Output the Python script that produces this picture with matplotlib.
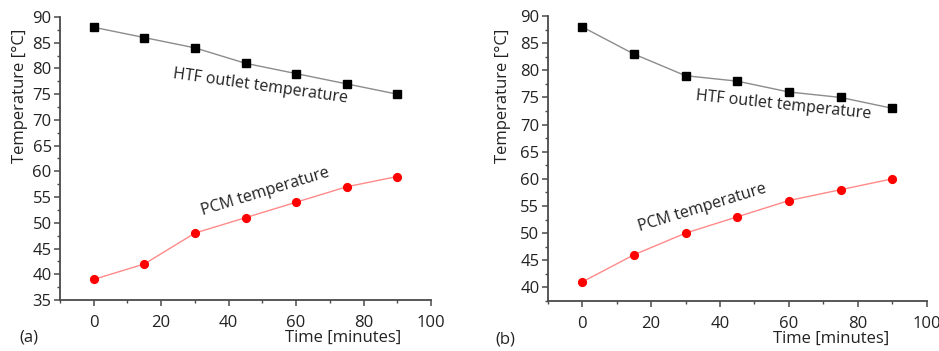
import matplotlib.pyplot as plt
from matplotlib.ticker import MultipleLocator

plt.rcParams['font.family'] = ['Open Sans', 'DejaVu Sans']

time_min = [0, 15, 30, 45, 60, 75, 90]

# panel (a)
htf_a = [88, 86, 84, 81, 79, 77, 75]
pcm_a = [39, 42, 48, 51, 54, 57, 59]

# panel (b)
htf_b = [88, 83, 79, 78, 76, 75, 73]
pcm_b = [41, 46, 50, 53, 56, 58, 60]

panels = [
    dict(rect=[0.0639, 0.1453, 0.3951, 0.8063], htf=htf_a, pcm=pcm_a, ylim=(35, 90),
         tag='(a)', tag_x=-0.11, xlab_x=0.763, ylab_x=-0.085,
         htf_pos=(49.5, 76.6, -8), pcm_pos=(51, 56.0, 17)),
    dict(rect=[0.5833, 0.1425, 0.4036, 0.8119], htf=htf_b, pcm=pcm_b, ylim=(37.5, 90),
         tag='(b)', tag_x=-0.139, xlab_x=0.748, ylab_x=-0.098,
         htf_pos=(58.5, 73.5, -6), pcm_pos=(35, 54.7, 17)),
]

txt = '#222222'
spine = '#4a4a4a'

fig = plt.figure(figsize=(9.39, 3.51), dpi=100)

for p in panels:
    ax = fig.add_axes(p['rect'])
    ax.plot(time_min, p['htf'], color='#8c8c8c', lw=1.0, marker='s', ms=5.2,
            mfc='black', mec='black', zorder=3)
    ax.plot(time_min, p['pcm'], color='#ff8a8a', lw=1.0, marker='o', ms=5.6,
            mfc='#ff0000', mec='#ff0000', zorder=3)

    ax.set_xlim(-10, 100)
    ax.set_ylim(*p['ylim'])
    ax.xaxis.set_major_locator(MultipleLocator(20))
    ax.xaxis.set_minor_locator(MultipleLocator(10))
    ax.yaxis.set_major_locator(MultipleLocator(5))
    ax.yaxis.set_minor_locator(MultipleLocator(2.5))

    for s in ('top', 'right'):
        ax.spines[s].set_visible(False)
    for s in ('left', 'bottom'):
        ax.spines[s].set_color(spine)
        ax.spines[s].set_linewidth(1.3)

    ax.tick_params(which='major', direction='out', length=4, width=1.1,
                   color=spine, labelcolor=txt, labelsize=12)
    ax.tick_params(which='minor', direction='out', length=2.5, width=1.0, color=spine)
    ax.tick_params(axis='x', pad=7)
    ax.tick_params(axis='y', pad=2)

    ax.set_ylabel('Temperature [°C]', fontsize=12, color=txt)
    ax.yaxis.set_label_coords(p['ylab_x'], 0.72)

    ax.text(p['xlab_x'], -0.134, 'Time [minutes]', transform=ax.transAxes,
            fontsize=12, color=txt, ha='center', va='center')
    ax.text(p['tag_x'], -0.134, p['tag'], transform=ax.transAxes, fontsize=12,
            color=txt, ha='left', va='center')

    hx, hy, ha_ = p['htf_pos']
    ax.text(hx, hy, 'HTF outlet temperature', fontsize=11.5, color=txt,
            rotation=ha_, rotation_mode='anchor', ha='center', va='center')
    px, py, pa = p['pcm_pos']
    ax.text(px, py, 'PCM temperature', fontsize=11.5, color=txt,
            rotation=pa, rotation_mode='anchor', ha='center', va='center')

fig.savefig('out.png', dpi=100)
